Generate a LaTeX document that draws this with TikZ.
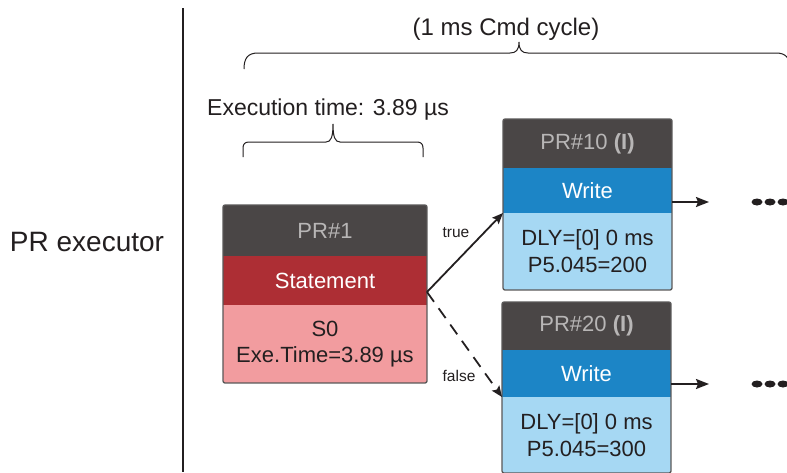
\documentclass[tikz,border=0pt]{standalone}
\usepackage{fontspec}
\setmainfont{Liberation Sans}
\usetikzlibrary{arrows.meta,fit}
\definecolor{hdr}{HTML}{4A4646}
\definecolor{hdrtxt}{HTML}{B8B6B6}
\definecolor{redst}{HTML}{AD2E34}
\definecolor{pinkb}{HTML}{F29C9F}
\definecolor{bluew}{HTML}{1C85C6}
\definecolor{lblue}{HTML}{A6D8F3}
\definecolor{ink}{HTML}{231F20}
\definecolor{bord}{HTML}{5A5858}
\tikzset{
  part/.style={anchor=north west, inner sep=0pt, outer sep=0pt, align=center,
    font=\fontsize{22}{26}\selectfont},
  hdrbox/.style={part, fill=hdr, text=hdrtxt},
  stbox/.style={part, fill=redst, text=white},
  wrbox/.style={part, fill=bluew, text=white},
  pinkbox/.style={part, fill=pinkb, text=ink},
  lbbox/.style={part, fill=lblue, text=ink, font=\fontsize{22}{27}\selectfont},
  frame/.style={draw=bord, line width=1.3pt, rounded corners=2pt, inner sep=0pt, fill=none},
  conn/.style={draw=ink, line width=1.8pt},
  lbl/.style={text=ink, inner sep=0pt},
  brace/.style={draw=ink, line width=1pt}
}
\begin{document}
\begin{tikzpicture}[x=1pt,y=-1pt]
\useasboundingbox (0,0) rectangle (787,472);
\clip (0,0) rectangle (787,472);
\fill[white] (0,0) rectangle (787,472);

% left label and divider
\node[lbl, font=\fontsize{28}{30}\selectfont, anchor=base] (exec) at (87,251) {PR executor};
\coordinate (vtop) at (183,8);
\coordinate (vbot) at (183,472);
\draw[draw=ink, line width=1.4pt] (vtop) -- (vbot);

% top brace
\node[lbl, font=\fontsize{24}{26}\selectfont, anchor=base] (cyc) at (506,35) {(1 ms Cmd cycle)};
\draw[brace] (244,69) .. controls (244,58) and (248,53) .. (258,53) -- (510,53)
  .. controls (516,53) and (519,50) .. (519,42)
  .. controls (519,50) and (522,53) .. (528,53) -- (776,53)
  .. controls (786,53) and (790,58) .. (790,69);

% small brace
\node[lbl, font=\fontsize{23}{26}\selectfont, anchor=base] (extime) at (328,115) {Execution time: 3.89 µs};
\draw[brace] (243,157) -- (243,148) .. controls (243,144) and (245,142) .. (249,142) -- (326,142)
  .. controls (331,142) and (333,137) .. (333,124)
  .. controls (333,137) and (335,142) .. (340,142) -- (417,142)
  .. controls (421,142) and (423,144) .. (423,148) -- (423,157);

% PR#1 block
\node[hdrbox, minimum width=204pt, minimum height=51pt] (h1) at (223,205) {PR\#1};
\node[stbox, minimum width=204pt, minimum height=49pt] (s1) at (223,256) {Statement};
\node[pinkbox, minimum width=204pt, minimum height=78pt] (p1) at (223,305) {S0\\Exe.Time=3.89 µs};
\node[frame, fit=(h1)(p1)] (f1) {};

% PR#10 block
\node[hdrbox, minimum width=169pt, minimum height=49pt] (h10) at (503,119) {PR\#10 \textbf{(I)}};
\node[wrbox, minimum width=169pt, minimum height=45pt] (w10) at (503,168) {Write};
\node[lbbox, minimum width=169pt, minimum height=77pt] (b10) at (503,213) {DLY=[0] 0 ms\\P5.045=200};
\node[frame, fit=(h10)(b10)] (f10) {};

% PR#20 block
\node[hdrbox, minimum width=169pt, minimum height=48pt] (h20) at (502,302) {PR\#20 \textbf{(I)}};
\node[wrbox, minimum width=169pt, minimum height=47pt] (w20) at (502,350) {Write};
\node[lbbox, minimum width=169pt, minimum height=76pt] (b20) at (502,397) {DLY=[0] 0 ms\\P5.045=300};
\node[frame, fit=(h20)(b20)] (f20) {};

% branch connectors
\coordinate (fork) at (427,292);
\draw[conn, -{Stealth[length=11pt,width=9pt,inset=2pt]}] (fork) -- (b10.north west);
\draw[conn, dash pattern=on 12pt off 8pt, -{Stealth[length=11pt,width=9pt,inset=2pt]}] (fork) -- (b20.north west);
\node[lbl, font=\fontsize{15.5}{18}\selectfont] (tl) at (456,233) {true};
\node[lbl, font=\fontsize{15.5}{18}\selectfont] (fl) at (459,376) {false};

% outgoing arrows
\coordinate (o10) at (672,202);
\coordinate (e10) at (709,202);
\coordinate (o20) at (671,384);
\coordinate (e20) at (709,384);
\draw[conn, -{Stealth[length=13pt,width=10pt,inset=2pt]}] (o10) -- (e10);
\draw[conn, -{Stealth[length=13pt,width=10pt,inset=2pt]}] (o20) -- (e20);

% ellipsis dots
\foreach \yy in {202,384} {
  \foreach \xx in {757,770,783} {
    \fill[ink] (\xx,\yy) ellipse (5.5pt and 3.5pt);
  }
}
\end{tikzpicture}
\end{document}
